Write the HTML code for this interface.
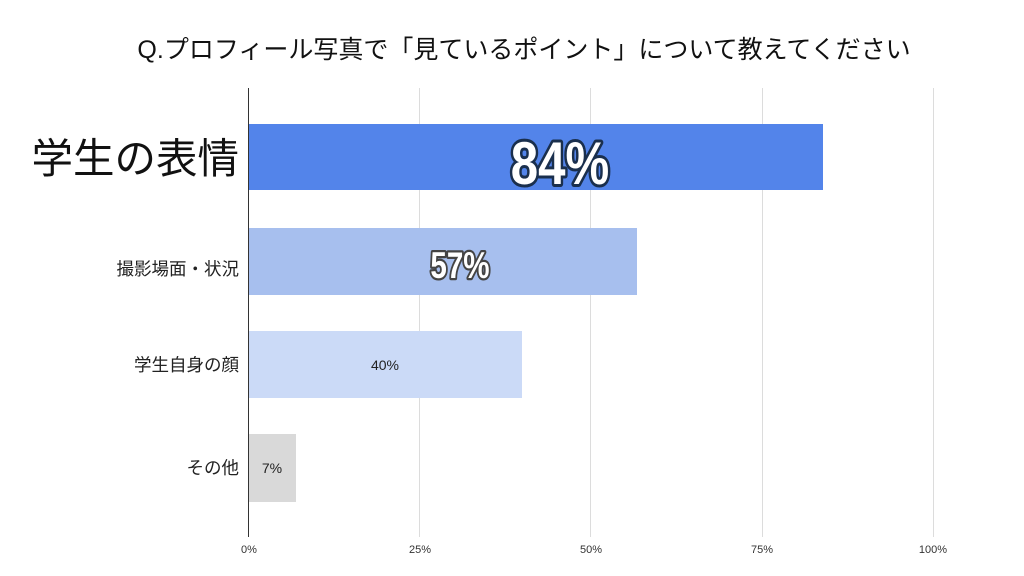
<!DOCTYPE html>
<html><head><meta charset="utf-8"><style>
html,body{margin:0;padding:0;background:#fff;width:1024px;height:576px;overflow:hidden}
svg{display:block}
</style></head><body>
<svg width="1024" height="576" xmlns="http://www.w3.org/2000/svg" font-family="'Liberation Sans','Noto Sans CJK JP',sans-serif">
<text x="524" y="58" font-size="25" text-anchor="middle" fill="#111">Q.プロフィール写真で「見ているポイント」について教えてください</text>
<g stroke="#dcdcdc" stroke-width="1">
<line x1="419.5" y1="88" x2="419.5" y2="537"/>
<line x1="590.5" y1="88" x2="590.5" y2="537"/>
<line x1="762.5" y1="88" x2="762.5" y2="537"/>
<line x1="933.5" y1="88" x2="933.5" y2="537"/>
</g>
<rect x="248" y="124" width="575" height="66" fill="#5384ea"/>
<rect x="248" y="228" width="389" height="67" fill="#a7bfee"/>
<rect x="248" y="331" width="274" height="67" fill="#cbdaf7"/>
<rect x="248" y="434" width="48" height="68" fill="#d9d9d9"/>
<line x1="248.5" y1="88" x2="248.5" y2="537" stroke="#333" stroke-width="1"/>
<text x="560" y="184" font-family="'Liberation Sans Narrow','Liberation Sans',sans-serif" font-weight="bold" font-size="60" text-anchor="middle" fill="#fff" stroke="#1a2f4d" stroke-width="6" paint-order="stroke" stroke-linejoin="round" transform="translate(560 0) scale(0.82 1) translate(-560 0)">84%</text>
<text x="460" y="278" font-family="'Liberation Sans Narrow','Liberation Sans',sans-serif" font-weight="bold" font-size="37" text-anchor="middle" fill="#fff" stroke="#444" stroke-width="4.5" paint-order="stroke" stroke-linejoin="round" transform="translate(460 0) scale(0.8 1) translate(-460 0)">57%</text>
<text x="385" y="370" font-size="14" text-anchor="middle" fill="#222">40%</text>
<text x="272" y="473" font-size="14" text-anchor="middle" fill="#222">7%</text>
<text x="239" y="173" font-size="41.5" text-anchor="end" fill="#111">学生の表情</text>
<text x="239" y="275" font-size="17.5" text-anchor="end" fill="#222">撮影場面・状況</text>
<text x="239" y="371" font-size="17.5" text-anchor="end" fill="#222">学生自身の顔</text>
<text x="239" y="474" font-size="17.5" text-anchor="end" fill="#222">その他</text>
<g font-size="11" fill="#333" text-anchor="middle">
<text x="249" y="553">0%</text>
<text x="420" y="553">25%</text>
<text x="591" y="553">50%</text>
<text x="762" y="553">75%</text>
<text x="933" y="553">100%</text>
</g>
</svg>
</body></html>
